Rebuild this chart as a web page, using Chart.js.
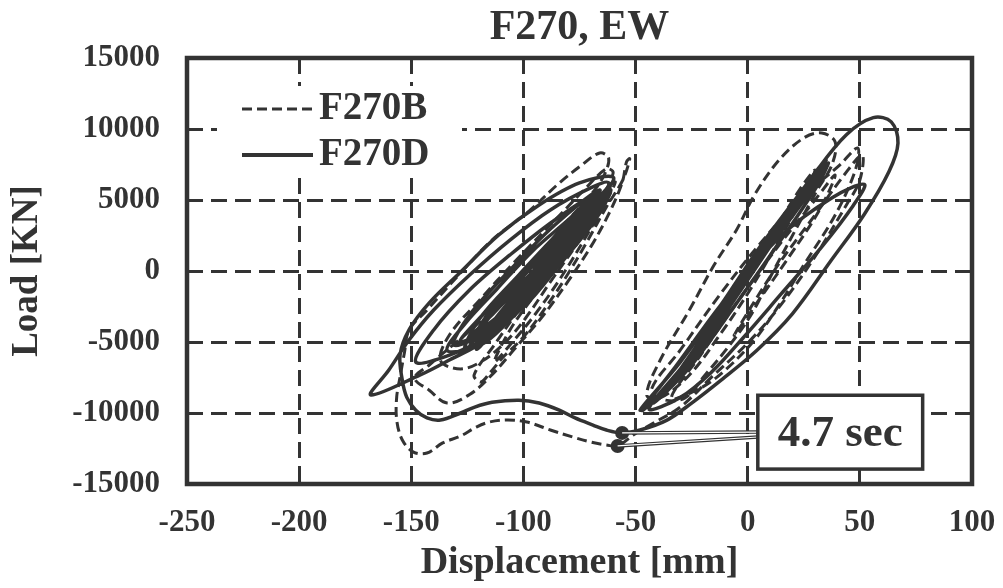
<!DOCTYPE html>
<html>
<head>
<meta charset="utf-8">
<title>F270, EW</title>
<script src="https://cdn.jsdelivr.net/npm/chart.js@4.4.1/dist/chart.umd.min.js"></script>
<style>
  html, body { margin: 0; padding: 0; background: #fff; }
  canvas { display: block; }
</style>
</head>
<body>
<canvas id="hysteresis" width="1003" height="588"></canvas>
<script>
const hysteresis = document.getElementById("hysteresis");

const ink = "#333333";
const serif = '"Liberation Serif", "Times New Roman", serif';

// axis ticks
const xTicks = [-250, -200, -150, -100, -50, 0, 50, 100];
const yTicks = [-15000, -10000, -5000, 0, 5000, 10000, 15000];

// F270D (solid) : cycles around zero, the 4.7 s excursion, then cycles around -110 mm
// [displacement mm, load kN]
const f270dRight = [
  [0, 0], [15, 3500], [30, 6800], [35, 7800], [30, 6600], [15, 3200], [0, -200],
  [-15, -3800], [-30, -7200], [-48, -9800], [-30, -6400], [-12, -2400], [5, 1600],
  [22, 5200], [34, 7700], [28, 5900], [12, 2200], [-5, -1800], [-22, -5700],
  [-40, -8800], [-47, -9800], [-32, -6700], [-10, -2000], [15, 2500], [38, 5200],
  [52, 6100], [47, 4600], [33, 1700], [15, -1600], [-2, -4700], [-16, -7100],
  [-30, -8900], [-44, -9700], [-28, -6500], [-8, -1900], [14, 2600], [31, 6300],
  [36, 7600], [31, 6000], [14, 2000], [-6, -2500], [-26, -6800], [-42, -9300],
  [-30, -6900], [-10, -2300], [12, 2800], [30, 6900],
  [44, 9600], [56, 10800], [64, 10500], [67, 9000], [63, 7000], [52, 4000],
  [37, 700], [20, -3000], [4, -5600], [-12, -7700], [-25, -9300], [-36, -10500],
  [-48, -11200], [-56, -11400]
];
const f270dSwoop = [
  [-63, -11200], [-69, -10850], [-77, -10350], [-84, -9800], [-93, -9300],
  [-102, -9100], [-114, -9250], [-122, -9600], [-128, -10000], [-137, -10500],
  [-143, -10350], [-148, -9800], [-152, -8900], [-154, -7700]
];
const f270dLeft = [
  [-155, -5900], [-151, -4150], [-142, -2250], [-128, -70], [-111, 2540],
  [-93, 4650], [-75, 6200], [-60, 6620], [-64, 5350], [-73, 3240], [-86, 420],
  [-102, -2390], [-117, -4860], [-133, -6270], [-146, -7320], [-168, -8730],
  [-160, -6970], [-151, -4860], [-140, -2750], [-124, -280], [-106, 2180],
  [-88, 4300], [-70, 5850], [-62, 6200], [-66, 4650], [-79, 2180], [-97, -1340],
  [-115, -4150], [-131, -5210], [-124, -3100], [-106, 70], [-86, 3240],
  [-66, 5700], [-75, 3590], [-90, 70], [-108, -3450], [-122, -4860],
  [-113, -2390], [-95, 775], [-77, 3940], [-67, 5560], [-77, 3030], [-93, -280],
  [-111, -3800], [-126, -5560], [-120, -3450], [-102, -280], [-84, 2750],
  [-66, 5350], [-70, 4150], [-84, 915], [-99, -2040], [-115, -4510],
  [-133, -5920], [-148, -6410], [-140, -4150], [-124, -1340], [-106, 1130],
  [-86, 3590], [-68, 5350], [-73, 3730], [-88, 630], [-104, -2180],
  [-120, -4150], [-111, -2040], [-93, 915], [-75, 3940], [-65, 5000],
  [-75, 2750], [-91, -490], [-106, -3100], [-116, -4150], [-102, -1340],
  [-84, 1830], [-68, 4650], [-61, 5700], [-68, 3590], [-84, 420], [-99, -2390],
  [-113, -4010], [-102, -1690], [-86, 1130], [-70, 3730], [-77, 1830],
  [-93, -990], [-108, -3310], [-90.5, 1130], [-72.7, 4150], [-62.4, 5700],
  [-68.2, 3940], [-83.8, 1130], [-101.6, -2040], [-117.3, -4150], [-128.4, -5000],
  [-119.5, -3310], [-103.9, -770], [-86, 1830], [-70.4, 4430], [-61.5, 5990],
  [-66, 4430], [-79.4, 1830], [-95, -1200], [-110.6, -3450], [-123.9, -4720],
  [-112.8, -2890], [-97.2, -280], [-79.4, 2750], [-63.8, 5280],
  [-66, 4300], [-76, 2000], [-90, -700], [-104, -3000], [-118, -4900],
  [-124, -5300], [-108, -1800], [-92, 1000], [-78, 3300], [-66, 5300],
  [-72, 3500], [-85, 900], [-98, -1700], [-112, -4000], [-121, -5500],
  [-114, -2800], [-98, -400], [-82, 2200], [-68, 4800], [-62, 5900],
  [-70, 3700], [-80, 1500], [-93, -1200], [-107, -3600], [-119, -5200],
  [-134, -5600], [-126, -3700], [-112, -1300], [-96, 1400], [-80, 3600],
  [-67, 5500], [-74, 3000], [-88, 300], [-103, -2400], [-114, -4300]
];

// F270B (dashed)
const f270bRight = [
  [0, 0], [12, 2890], [23, 5700], [30, 7110], [25, 5350], [14, 2180], [1, -1340],
  [-12.5, -4510], [-26, -7320], [-39, -8940], [-45, -8730], [-39, -6270],
  [-26, -2750], [-15, 420], [-5, 2890], [3, 5350], [14, 7820], [25, 9370],
  [33, 9720], [39, 9080], [37.5, 7460], [31, 5700], [22, 3100], [11, -140],
  [2, -2960], [-8, -5210], [-19, -7320], [-28, -8940], [-37, -9080],
  [-43, -8380], [-30, -5560], [-12.5, -1690], [5, 1830], [23, 5000], [41, 7460],
  [49, 8660], [48, 7110], [39, 3940], [25, 420], [14, -2390], [3, -4860],
  [-10, -6970], [-21, -8240], [-34, -8940], [-21, -5920], [-4, -2040],
  [14, 1830], [30, 5000], [39, 6760], [32, 4300], [19, 1130], [5, -2040],
  [-6, -4510], [12, 70], [30, 3940], [43, 6760], [51, 8170], [50, 6410],
  [44, 4650], [29, 775], [14, -2540], [0, -5070], [-16, -7460], [-30, -9580],
  [-42, -10700], [-51, -11550], [-58, -12320]
];
const f270bSwoop = [
  [-63, -12250], [-70, -12040], [-78, -11690], [-88, -11200], [-98.5, -10630],
  [-107, -10490], [-115, -10630], [-121, -10990], [-128, -11620],
  [-136, -12110], [-143, -12820], [-149, -12750], [-154, -11900],
  [-156.5, -10490], [-156.5, -8870], [-155, -7460]
];
const f270bLeft = [
  [-153, -5700], [-151, -4150], [-143, -2750], [-128, -140], [-114, 2180],
  [-98.5, 4080], [-84, 6200], [-74, 7460], [-66, 8310], [-62, 7960],
  [-64, 6760], [-70, 5350], [-82, 3240], [-95, 630], [-108, -1830],
  [-122, -3940], [-133, -5420], [-142, -6620], [-148.5, -7540], [-142, -8400],
  [-134, -9300], [-124, -8700], [-114, -7300], [-104, -5500], [-91, -3100],
  [-80, -700], [-70, 1700], [-62, 4000], [-56, 6200], [-54, 7700], [-52.6, 7900],
  [-55.7, 6410], [-63, 4510], [-72, 1970], [-81, -420], [-90, -2540],
  [-100, -4650], [-109, -6060], [-115, -7180], [-119, -7820], [-122, -7320],
  [-113, -5210], [-102, -2750], [-88, 70], [-75, 2750], [-65, 5000],
  [-59, 6270], [-64, 4650], [-73, 2180], [-84, -630], [-95, -3100],
  [-106, -5210], [-113, -6410], [-106, -4150], [-95, -1690], [-82, 1130],
  [-69.5, 3730], [-66, 4650], [-75, 2180], [-88, -770], [-99, -3310],
  [-108, -5000], [-118, -6300], [-128, -6900], [-137, -6300], [-133, -4510],
  [-119.5, -2040], [-104, 630], [-88, 3240], [-73, 5700], [-63, 7200],
  [-60, 6900], [-66, 5000], [-78, 2500], [-92, -300], [-104, -2500],
  [-112, -3900]
];

// state at 4.7 sec
const f270dMark = [[-56, -11400]];
const f270bMark = [[-58, -12320]];
const markLabel = "4.7 sec";

const seriesNames = ["F270B", "F270D"];

function toPoints(...parts) {
  let pts = [];
  parts.forEach((part) => {
    part.forEach((p) => pts.push({ x: p[0], y: p[1] }));
  });
  return pts;
}

function edgeGrid(ticks) {
  // outer ticks sit on the frame, which is drawn solid
  return (c) => {
    if (c.tick && (c.tick.value === ticks[0] || c.tick.value === ticks[ticks.length - 1])) {
      return "rgba(0,0,0,0)";
    }
    return ink;
  };
}

const notes = {
  id: "notes",
  beforeDatasetsDraw(chart) {
    const { ctx, chartArea } = chart;
    const lx = chartArea.left + 30;
    const ly = chartArea.top + 28;
    ctx.save();
    // legend sits on a white patch over the grid
    ctx.fillStyle = "#fff";
    ctx.fillRect(lx, ly, 245, 92);
    ctx.strokeStyle = ink;
    ctx.lineCap = "butt";
    ctx.lineWidth = 3;
    ctx.setLineDash([10, 5]);
    ctx.beginPath();
    ctx.moveTo(lx + 25, ly + 23);
    ctx.lineTo(lx + 96, ly + 23);
    ctx.stroke();
    ctx.setLineDash([]);
    ctx.lineWidth = 4;
    ctx.beginPath();
    ctx.moveTo(lx + 25, ly + 69);
    ctx.lineTo(lx + 96, ly + 69);
    ctx.stroke();
    ctx.fillStyle = ink;
    ctx.font = "bold 39px " + serif;
    ctx.textBaseline = "middle";
    ctx.textAlign = "left";
    ctx.fillText(seriesNames[0], lx + 102, ly + 23);
    ctx.fillText(seriesNames[1], lx + 102, ly + 69);
    ctx.restore();
  },
  afterDatasetsDraw(chart) {
    const { ctx, chartArea } = chart;
    const xs = chart.scales.x;
    const ys = chart.scales.y;
    ctx.save();

    // frame round the plot
    ctx.strokeStyle = ink;
    ctx.lineWidth = 4.5;
    ctx.setLineDash([]);
    ctx.lineJoin = "miter";
    ctx.strokeRect(chartArea.left, chartArea.top,
      chartArea.right - chartArea.left, chartArea.bottom - chartArea.top);

    // label box
    const bl = xs.getPixelForValue(4.5);
    const br = xs.getPixelForValue(78);
    const bt = ys.getPixelForValue(-8750);
    const bb = ys.getPixelForValue(-13950);

    // leader lines, drawn as double strokes
    const ends = [
      [f270dMark[0], -11340],
      [f270bMark[0], -11690],
    ];
    ends.forEach((e) => {
      const x0 = xs.getPixelForValue(e[0][0]);
      const y0 = ys.getPixelForValue(e[0][1]);
      const y1 = ys.getPixelForValue(e[1]);
      ctx.beginPath();
      ctx.moveTo(x0, y0);
      ctx.lineTo(bl, y1);
      ctx.strokeStyle = ink;
      ctx.lineWidth = 3.5;
      ctx.stroke();
      ctx.strokeStyle = "#fff";
      ctx.lineWidth = 1.2;
      ctx.stroke();
    });

    ctx.fillStyle = "#fff";
    ctx.fillRect(bl, bt, br - bl, bb - bt);
    ctx.strokeStyle = ink;
    ctx.lineWidth = 3.5;
    ctx.strokeRect(bl, bt, br - bl, bb - bt);
    ctx.fillStyle = ink;
    ctx.font = "bold 45px " + serif;
    ctx.textAlign = "center";
    ctx.textBaseline = "middle";
    ctx.fillText(markLabel, (bl + br) / 2, (bt + bb) / 2 + 2);
    ctx.restore();
  },
};

new Chart(hysteresis, {
  type: "scatter",
  data: {
    datasets: [
      {
        label: "4.7 sec D",
        data: toPoints(f270dMark),
        pointRadius: 7,
        pointBackgroundColor: ink,
        pointBorderWidth: 0,
        showLine: false,
      },
      {
        label: "4.7 sec B",
        data: toPoints(f270bMark),
        pointRadius: 7,
        pointBackgroundColor: ink,
        pointBorderWidth: 0,
        showLine: false,
      },
      {
        label: seriesNames[1],
        data: toPoints(f270dRight, f270dSwoop, f270dLeft),
        showLine: true,
        borderColor: ink,
        borderWidth: 3.5,
        pointRadius: 0,
        tension: 0.35,
        fill: false,
      },
      {
        label: seriesNames[0],
        data: toPoints(f270bRight, f270bSwoop, f270bLeft),
        showLine: true,
        borderColor: ink,
        borderWidth: 3,
        borderDash: [10, 5],
        pointRadius: 0,
        tension: 0.35,
        fill: false,
      },
    ],
  },
  options: {
    responsive: false,
    animation: false,
    devicePixelRatio: 1,
    layout: { padding: { left: 0, right: 31, top: 0, bottom: 0 } },
    plugins: {
      legend: { display: false },
      tooltip: { enabled: false },
      title: {
        display: true,
        fullSize: false,
        text: "F270, EW",
        color: ink,
        font: { family: serif, size: 42, weight: "bold" },
        padding: { top: 3, bottom: 4.6 },
      },
    },
    scales: {
      x: {
        type: "linear",
        min: xTicks[0],
        max: xTicks[xTicks.length - 1],
        afterBuildTicks: (s) => { s.ticks = xTicks.map((v) => ({ value: v })); },
        afterFit: (s) => { s.height = 104; },
        ticks: {
          padding: 0,
          color: ink,
          font: { family: serif, size: 31, weight: "bold" },
          callback: (v) => String(v),
          maxRotation: 0,
        },
        grid: {
          color: edgeGrid(xTicks),
          lineWidth: 3,
          drawTicks: true,
          tickLength: 20,
          tickColor: "rgba(0,0,0,0)",
        },
        border: { display: false, dash: [16, 8] },
        title: {
          display: true,
          text: "Displacement [mm]",
          color: ink,
          font: { family: serif, size: 38, weight: "bold" },
          padding: { top: 0, bottom: 2 },
        },
      },
      y: {
        type: "linear",
        min: yTicks[0],
        max: yTicks[yTicks.length - 1],
        afterBuildTicks: (s) => { s.ticks = yTicks.map((v) => ({ value: v })); },
        afterFit: (s) => { s.width = 187; },
        ticks: {
          padding: 27,
          color: ink,
          font: { family: serif, size: 31, weight: "bold" },
          callback: (v) => String(v),
        },
        grid: { color: edgeGrid(yTicks), lineWidth: 3, drawTicks: false },
        border: { display: false, dash: [16, 8] },
        title: {
          display: true,
          text: "Load [KN]",
          color: ink,
          font: { family: serif, size: 37, weight: "bold" },
          padding: { top: 5, bottom: 0 },
        },
      },
    },
  },
  plugins: [notes],
});
</script>
</body>
</html>
